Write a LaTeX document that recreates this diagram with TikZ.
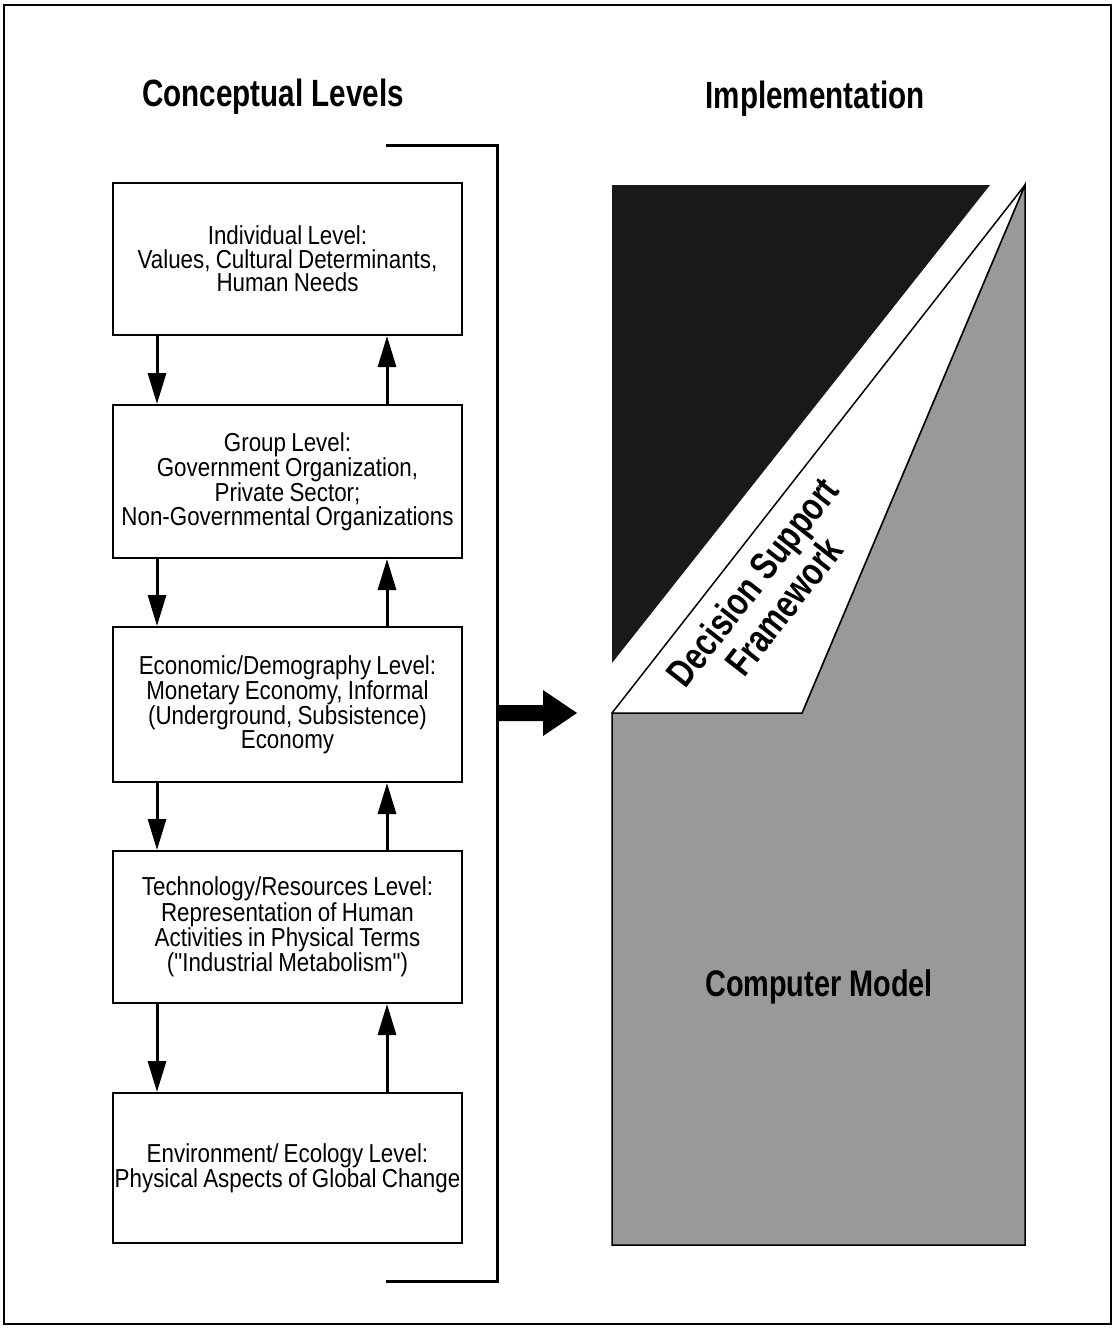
\documentclass[tikz,border=0pt]{standalone}
\usepackage{fontspec}
\setmainfont{Liberation Sans}
\newfontfamily\condfont[FakeStretch=0.78]{Liberation Sans}
\newfontfamily\bodyfont[FakeStretch=0.86,WordSpace=0.85]{Liberation Sans}
\usetikzlibrary{arrows.meta}
\begin{document}
\begin{tikzpicture}[x=1pt,y=-1pt,
  levelbox/.style={draw,line width=2pt,fill=white,minimum width=349pt,inner sep=0pt,align=center,
    font=\bodyfont\fontsize{26}{23.5}\selectfont},
  arr/.style={line width=3pt,-{Triangle[length=31pt,width=18pt]}},
  title/.style={font=\condfont\bfseries\fontsize{38}{40}\selectfont},
]
\useasboundingbox (0,0) rectangle (1119,1328);
\fill[white] (0,0) rectangle (1119,1328);
\draw[line width=1.5pt] (4,5) rectangle (1111,1324);

\node[title] (t1) at (273,97) {Conceptual Levels};
\node[title] (t2) at (815,99) {Implementation};

\node[levelbox,minimum height=152pt] (b1) at (287.5,259) {Individual Level:\\Values, Cultural Determinants,\\Human Needs};
\node[levelbox,minimum height=153pt] (b2) at (287.5,481.5) {Group Level:\\Government Organization,\\Private Sector;\\Non-Governmental Organizations};
\node[levelbox,minimum height=155pt] (b3) at (287.5,704.5) {Economic/Demography Level:\\Monetary Economy, Informal\\(Underground, Subsistence)\\Economy};
\node[levelbox,minimum height=152pt] (b4) at (287.5,927) {Technology/Resources Level:\\Representation of Human\\Activities in Physical Terms\\("Industrial Metabolism")};
\node[levelbox,minimum height=150pt] (b5) at (287.5,1168) {Environment/ Ecology Level:\\Physical Aspects of Global Change};

\foreach \a/\b in {b1/b2,b2/b3,b3/b4,b4/b5}{
  \draw[arr] ([xshift=45pt]\a.south west) -- ([xshift=45pt]\b.north west);
  \draw[arr] ([xshift=-76pt]\b.north east) -- ([xshift=-76pt]\a.south east);
}

% bracket
\coordinate (brt) at (386,145);
\coordinate (brb) at (386,1281);
\coordinate (brx) at (497,713);
\draw[line width=3pt] (brt) -| (brx |- brb) -- (brb);

% big arrow
\fill[black] (brx) ++(0,-8) -- (543,705) -- (543,690) -- (577,713) -- (543,736) -- (543,721) -- (497,721) -- cycle;

% implementation graphic
\coordinate (dtl) at (612,185);
\coordinate (dtr) at (990,185);
\coordinate (dbl) at (612,663);
\coordinate (apex) at (1025,185);
\coordinate (wbl) at (612,713);
\coordinate (wbr) at (802,713);
\coordinate (gbr) at (1025,1245);
\coordinate (gbl) at (612,1245);
\fill[black!90] (dtl) -- (dtr) -- (dbl) -- cycle;
\draw[line width=1.5pt,fill=black!40] (wbl) -- (wbr) -- (apex) -- (gbr) -- (gbl) -- cycle;
\draw[line width=1.5pt,fill=white,line join=round] (wbl) -- (apex) -- (wbr) -- cycle;

\node[font=\condfont\bfseries\fontsize{39}{40}\selectfont,align=center,rotate=52] (dsf) at (768,594) {Decision Support\\Framework};
\node[font=\condfont\bfseries\fontsize{37}{38}\selectfont] (cm) at (819,987) {Computer Model};
\end{tikzpicture}
\end{document}
